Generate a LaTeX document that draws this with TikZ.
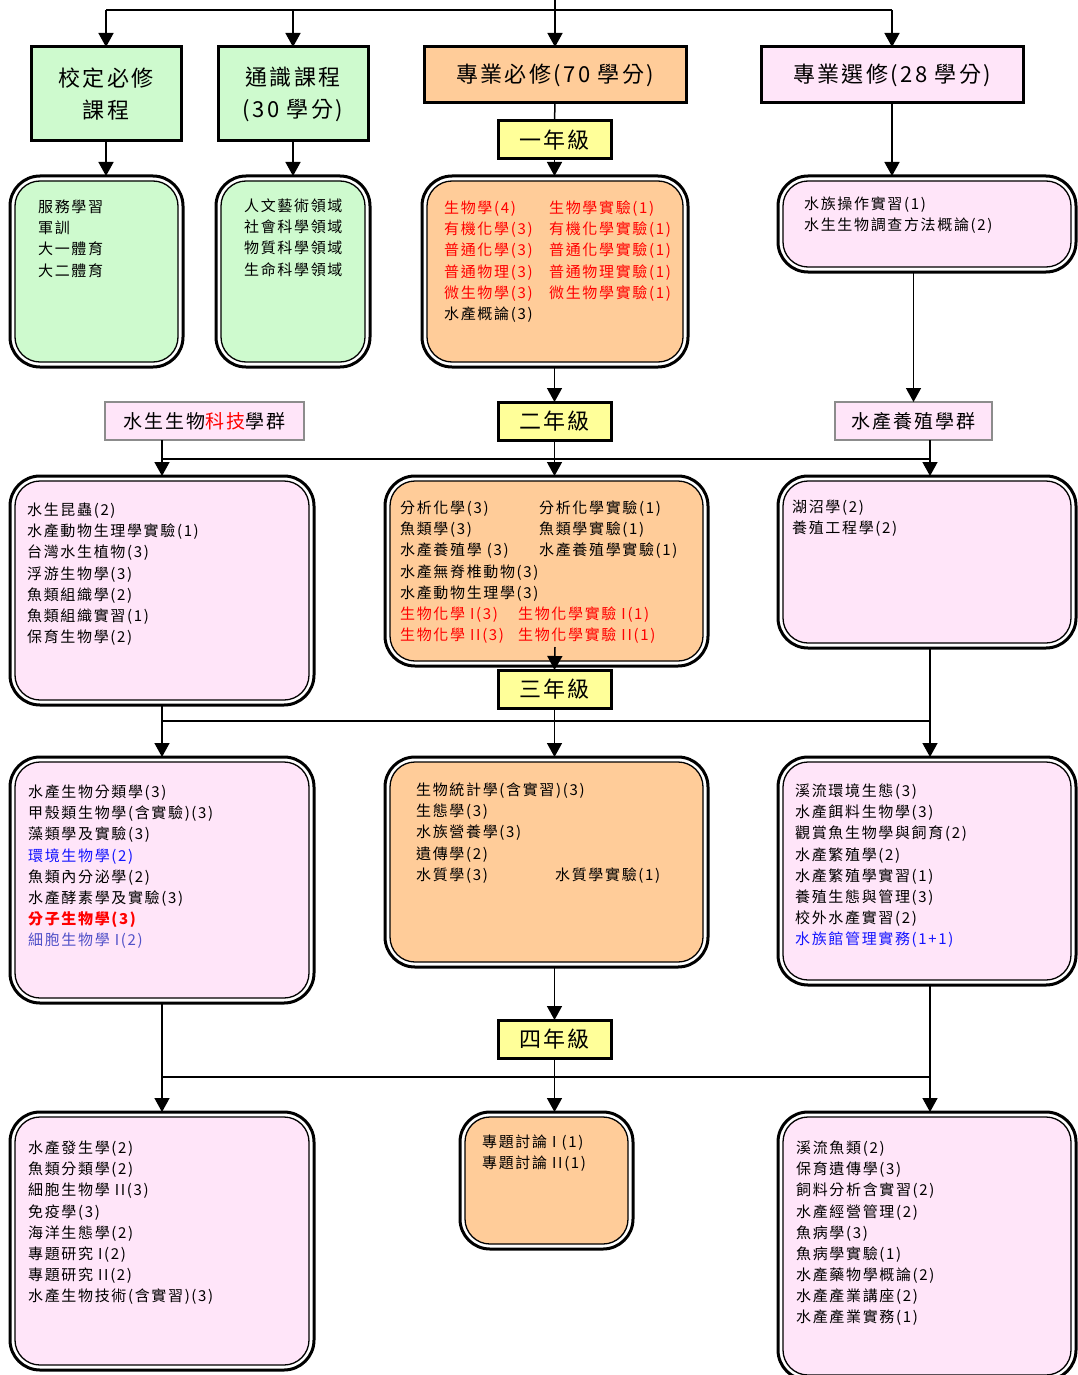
\documentclass[tikz,border=0pt]{standalone}
\usepackage{fontspec}
\setmainfont[LetterSpace=11]{Noto Sans CJK TC}
\usetikzlibrary{arrows.meta}
\definecolor{cgreen}{RGB}{206,250,206}
\definecolor{corange}{RGB}{255,204,153}
\definecolor{cpink}{RGB}{255,229,249}
\definecolor{cyellow}{RGB}{255,255,153}
\definecolor{cred}{RGB}{255,0,0}
\definecolor{cblue}{RGB}{20,20,255}
\definecolor{cslate}{RGB}{80,80,200}
\tikzset{
 hdr/.style={draw, line width=3pt, inner sep=0pt, outer sep=0pt, font=\fontsize{22}{32}\selectfont, align=center},
 yearbox/.style={draw, line width=3pt, fill=cyellow, inner sep=0pt, outer sep=0pt, font=\fontsize{22}{28}\selectfont},
 grpbox/.style={draw=black!90, double=black!45, double distance=1.2pt, line width=0.8pt, fill=cpink, inner sep=0pt, outer sep=0pt, font=\fontsize{19}{24}\selectfont},
 obox/.style={draw, line width=3pt, fill=white, rounded corners=30pt, inner sep=0pt, outer sep=0pt},
 ibox/.style={draw, line width=1.3pt, rounded corners=25pt, inner sep=0pt, outer sep=0pt},
 txt/.style={inner sep=0pt, anchor=base west, font=\fontsize{15}{21}\selectfont},
 ln/.style={line width=1.5pt},
 arr/.style={line width=1.5pt, -{Triangle[length=14pt,width=15pt]}},
}
\newcommand\placebox[7]{%
 \pgfmathsetmacro\pbcx{(#3+#5)/2}\pgfmathsetmacro\pbcy{(#4+#6)/2}%
 \pgfmathsetmacro\pbw{#5-#3}\pgfmathsetmacro\pbh{#6-#4}%
 \node[#1, minimum width=\pbw pt, minimum height=\pbh pt] (#2) at (\pbcx,\pbcy) {#7};}
\newcommand\dblbox[6]{%
 \pgfmathsetmacro\pbcx{(#2+#4)/2}\pgfmathsetmacro\pbcy{(#3+#5)/2}%
 \pgfmathsetmacro\pbw{#4-#2}\pgfmathsetmacro\pbh{#5-#3}%
 \pgfmathsetmacro\pbwi{#4-#2-10}\pgfmathsetmacro\pbhi{#5-#3-10}%
 \node[obox, minimum width=\pbw pt, minimum height=\pbh pt] (#1) at (\pbcx,\pbcy) {};
 \node[ibox, fill=#6, minimum width=\pbwi pt, minimum height=\pbhi pt] (#1-in) at (\pbcx,\pbcy) {};}
\newcommand\courses[5][]{%
 \foreach \ct [count=\ci] in {#5} {%
   \node[txt,#1] (#2-\ci) at (#3, #4+5.7+21.1*\ci-21.1) {\ct};}}
\begin{document}
\begin{tikzpicture}[x=1pt,y=-1pt]
\fill[white] (0,0) rectangle (1078,1375);
\useasboundingbox (0,0) rectangle (1078,1375);

% header boxes
\placebox{hdr, fill=cgreen}{h1}{31}{47}{181}{141}{校定必修\\課程}
\placebox{hdr, fill=cgreen}{h2}{218}{47}{368}{141}{通識課程\\(30 學分)}
\placebox{hdr, fill=corange}{h3}{424}{47}{686}{103}{專業必修(70 學分)}
\placebox{hdr, fill=cpink}{h4}{761}{47}{1023}{103}{專業選修(28 學分)}

% year labels
\placebox{yearbox}{yr1}{498}{121}{611}{159}{一年級}
\placebox{yearbox}{yr2}{498}{402}{611}{440}{二年級}
\placebox{yearbox}{yr3}{498}{670}{611}{708}{三年級}
\placebox{yearbox}{yr4}{498}{1020}{611}{1058}{四年級}

% group labels
\placebox{grpbox}{gbt}{105}{402}{304}{440}{水生生物{\color{cred}科技}學群}
\placebox{grpbox}{gaq}{835}{402}{992}{440}{水產養殖學群}

% rounded course boxes
\dblbox{g1}{10}{176}{183}{367}{cgreen}
\dblbox{g2}{216}{176}{370}{367}{cgreen}
\dblbox{m1}{422}{176}{688}{367}{corange}
\dblbox{e1}{778}{176}{1076}{272}{cpink}
\dblbox{bL2}{10}{476}{314}{705}{cpink}
\dblbox{m2}{385}{476}{708}{666}{corange}
\dblbox{aR2}{778}{476}{1076}{648}{cpink}
\dblbox{bL3}{10}{757}{314}{1003}{cpink}
\dblbox{m3}{385}{757}{708}{967}{corange}
\dblbox{aR3}{778}{757}{1076}{985}{cpink}
\dblbox{bL4}{10}{1112}{314}{1370}{cpink}
\dblbox{m4}{460}{1112}{633}{1249}{corange}
\dblbox{aR4}{778}{1112}{1076}{1380}{cpink}

% course texts
\courses{t1}{38}{207}{服務學習,軍訓,大一體育,大二體育}
\courses{t2}{244}{206}{人文藝術領域,社會科學領域,物質科學領域,生命科學領域}
\courses[text=cred]{t3a}{444}{208}{生物學(4),有機化學(3),普通化學(3),普通物理(3),微生物學(3)}
\courses{t3c}{444}{313.5}{水產概論(3)}
\courses[text=cred]{t3b}{549}{208}{生物學實驗(1),有機化學實驗(1),普通化學實驗(1),普通物理實驗(1),微生物學實驗(1)}
\courses{t4}{804}{204}{水族操作實習(1),水生生物調查方法概論(2)}
\courses{t5}{27}{510}{水生昆蟲(2),水產動物生理學實驗(1),台灣水生植物(3),浮游生物學(3),魚類組織學(2),魚類組織實習(1),保育生物學(2)}
\courses{t6a}{400}{508}{分析化學(3),魚類學(3),水產養殖學 (3),水產無脊椎動物(3),水產動物生理學(3)}
\courses{t6b}{539}{508}{分析化學實驗(1),魚類學實驗(1),水產養殖學實驗(1)}
\courses[text=cred]{t6c}{400}{613.5}{生物化學 I(3),生物化學 II(3)}
\courses[text=cred]{t6d}{518}{613.5}{生物化學實驗 I(1),生物化學實驗 II(1)}
\courses{t7}{792}{507}{湖沼學(2),養殖工程學(2)}
\courses{t8}{28}{792}{水產生物分類學(3),甲殼類生物學(含實驗)(3),藻類學及實驗(3),{\color{cblue}環境生物學(2)},魚類內分泌學(2),水產酵素學及實驗(3),{\bfseries\color{cred}分子生物學(3)},{\color{cslate}細胞生物學 I(2)}}
\courses{t9}{416}{790}{生物統計學(含實習)(3),生態學(3),水族營養學(3),遺傳學(2),水質學(3)}
\courses{t9b}{555}{874.4}{水質學實驗(1)}
\courses{t10}{795}{791}{溪流環境生態(3),水產餌料生物學(3),觀賞魚生物學與飼育(2),水產繁殖學(2),水產繁殖學實習(1),養殖生態與管理(3),校外水產實習(2),{\color{cblue}水族館管理實務(1+1)}}
\courses{t11}{28}{1148}{水產發生學(2),魚類分類學(2),細胞生物學 II(3),免疫學(3),海洋生態學(2),專題研究 I(2),專題研究 II(2),水產生物技術(含實習)(3)}
\courses{t12}{482}{1142}{專題討論 I (1),專題討論 II(1)}
\courses{t13}{796}{1148}{溪流魚類(2),保育遺傳學(3),飼料分析含實習(2),水產經營管理(2),魚病學(3),魚病學實驗(1),水產藥物學概論(2),水產產業講座(2),水產產業實務(1)}

% connectors: top
\coordinate (top) at (555,0);
\coordinate (jA) at (106,10);
\coordinate (jB) at (293,10);
\coordinate (jD) at (892,10);
\draw[ln] (jA) -- (jD);
\draw[arr] (top) -- (h3.north);
\draw[arr] (jA) -- (h1.north);
\draw[arr] (jB) -- (h2.north);
\draw[arr] (jD) -- (h4.north);
\draw[arr] (h1.south) -- (h1.south |- g1.north);
\draw[arr] (h2.south) -- (h2.south |- g2.north);
\draw[ln] (h3.south) -- (yr1.north);
\draw[arr] (yr1.south) -- (yr1.south |- m1.north);
\draw[arr] (h4.south) -- (h4.south |- e1.north);
\draw[arr] (yr1.south |- m1.south) -- (yr2.north);
\draw[arr] (gaq.north |- e1.south) -- (gaq.north);

% row 2
\coordinate (r2L) at (162,459);
\coordinate (r2R) at (930,459);
\draw[ln] (r2L) -- (r2R);
\draw[arr] (gbt.south -| bL2.north) -- (bL2.north);
\draw[arr] (yr2.south) -- (yr2.south |- m2.north);
\draw[arr] (gaq.south -| r2R) -- (r2R |- aR2.north);

% row 3
\coordinate (y3start) at (555,647);
\draw[arr] (y3start) -- (yr3.north);
\coordinate (r3L) at (162,721);
\coordinate (r3R) at (930,721);
\draw[ln] (r3L) -- (r3R);
\draw[arr] (bL2.south) -- (bL3.north);
\draw[arr] (yr3.south) -- (yr3.south |- m3.north);
\draw[arr] (r3R |- aR2.south) -- (r3R |- aR3.north);

% row 4
\draw[arr] (m3.south -| yr4.north) -- (yr4.north);
\coordinate (r4L) at (162,1077);
\coordinate (r4R) at (930,1077);
\draw[ln] (r4L) -- (r4R);
\draw[arr] (bL3.south) -- (bL4.north);
\draw[arr] (yr4.south) -- (yr4.south |- m4.north);
\draw[arr] (r4R |- aR3.south) -- (r4R |- aR4.north);
\end{tikzpicture}
\end{document}
